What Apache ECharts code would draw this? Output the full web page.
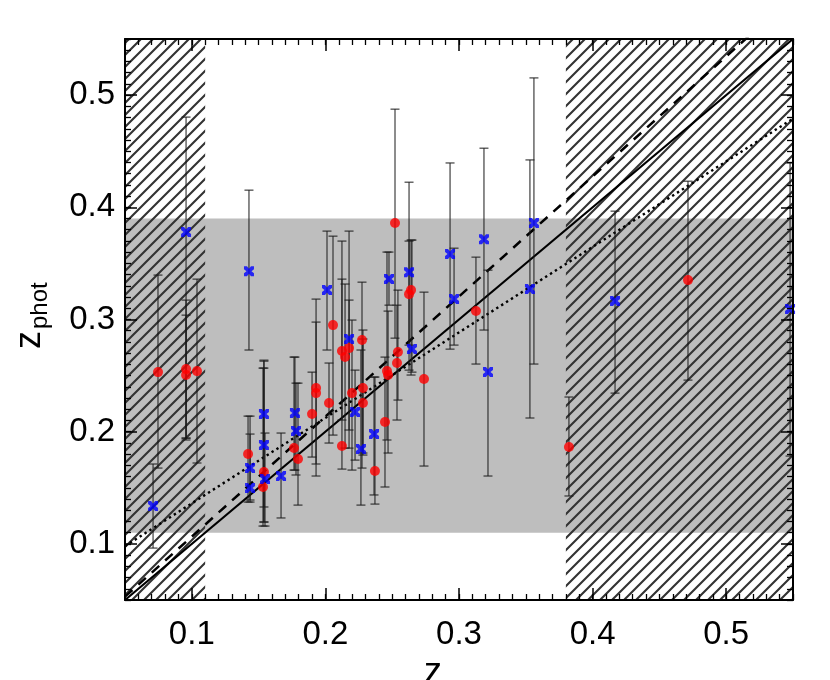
<!DOCTYPE html>
<html>
<head>
<meta charset="utf-8">
<script src="https://cdn.jsdelivr.net/npm/echarts@6/dist/echarts.min.js"></script>
<style>
  html, body { margin: 0; padding: 0; background: #fff; }
  #main { width: 830px; height: 680px; }
</style>
</head>
<body>
<div id="main"></div>
<script>
// 数据：红色圆点（z, z_phot, 误差上下限）
var redX  = [0.0747,0.0957,0.0957,0.1039,0.1421,0.1540,0.1533,0.1765,0.1795,0.1900,0.1930,0.1930,0.2027,0.2057,0.2124,0.2124,0.2147,0.2177,0.2199,0.2274,0.2281,0.2281,0.2371,0.2446,0.2461,0.2469,0.2521,0.2536,0.2543,0.2626,0.2641,0.2738,0.3127,0.3823,0.4714];
var redY  = [0.2531,0.2558,0.2505,0.2540,0.1801,0.1640,0.1507,0.1854,0.1756,0.2157,0.2389,0.2344,0.2255,0.2950,0.1872,0.2719,0.2665,0.2745,0.2344,0.2817,0.2389,0.2255,0.1649,0.2086,0.2540,0.2505,0.3860,0.2612,0.2710,0.3226,0.3262,0.2469,0.3075,0.1863,0.3351];
var redHi = [0.3396,0.3173,0.3039,0.3360,0.2139,0.2629,0.2567,0.2665,0.2433,0.2531,0.3182,0.2977,0.2612,0.3743,0.3699,0.3360,0.3316,0.3173,0.2995,0.3333,0.2906,0.2826,0.2487,0.2665,0.3601,0.3075,0.4875,0.3128,0.3262,0.3699,0.3708,0.3244,0.3556,0.2309,0.4233];
var redLo = [0.1676,0.1943,0.1926,0.1721,0.1373,0.1195,0.1159,0.1658,0.1346,0.1774,0.1605,0.1712,0.1899,0.1970,0.1667,0.2104,0.1854,0.2015,0.1658,0.1676,0.1792,0.1810,0.1355,0.1507,0.1926,0.1810,0.2834,0.2104,0.2282,0.2549,0.2505,0.1694,0.2603,0.1427,0.2460];

// 蓝色叉点
var blueX  = [0.0710,0.0957,0.1428,0.1436,0.1436,0.1540,0.1540,0.1548,0.1668,0.1772,0.1780,0.2012,0.2177,0.2222,0.2266,0.2364,0.2476,0.2626,0.2648,0.2933,0.2963,0.3187,0.3217,0.3531,0.3561,0.4168,0.5478];
var blueY  = [0.1338,0.3779,0.3431,0.1676,0.1498,0.2157,0.1881,0.1578,0.1605,0.2166,0.2006,0.3262,0.2826,0.2175,0.1845,0.1979,0.3360,0.3422,0.2736,0.3583,0.3182,0.3716,0.2531,0.3271,0.3860,0.3164,0.3093];
var blueHi = [0.1712,0.4804,0.4153,0.1979,0.2139,0.2638,0.2567,0.1988,0.1988,0.2665,0.2433,0.3788,0.3788,0.2549,0.2728,0.2487,0.3601,0.4224,0.3708,0.4395,0.3636,0.4527,0.3440,0.4422,0.5153,0.3966,0.4395];
var blueLo = [0.0963,0.1943,0.2728,0.1373,0.1391,0.1329,0.1195,0.1159,0.1231,0.1658,0.1614,0.2728,0.1854,0.1747,0.1346,0.1436,0.3128,0.2772,0.2531,0.2736,0.2772,0.2906,0.1605,0.2122,0.2603,0.2344,0.1783];

// 拟合线端点
var solidLine  = [[0.05, 0.05], [0.55, 0.55]];
var dashedLine = [[0.05, 0.053], [0.55, 0.588]];
var dottedLine = [[0.05, 0.098], [0.55, 0.479]];

// 灰色带与阴影区
var bandY = [0.11, 0.39];
var hatchLeft = [0.05, 0.11];
var hatchRight = [0.38, 0.55];

var axisMin = 0.05, axisMax = 0.55;
var majorTicks = [0.1, 0.2, 0.3, 0.4, 0.5];

// 斜线纹理
var tile = document.createElement('canvas');
var s = 12;
tile.width = s; tile.height = s;
var ctx = tile.getContext('2d');
ctx.strokeStyle = '#333333';
ctx.lineWidth = 2.1;
ctx.beginPath();
ctx.moveTo(-1, s + 1); ctx.lineTo(s + 1, -1);
ctx.moveTo(-1, 1); ctx.lineTo(1, -1);
ctx.moveTo(s - 1, s + 1); ctx.lineTo(s + 1, s - 1);
ctx.stroke();
var hatchFill = { image: tile, repeat: 'repeat' };

function zip(a, b, c) {
    return a.map(function (v, i) { return c ? [v, b[i], c[i]] : [v, b[i]]; });
}

var myChart = echarts.init(document.getElementById('main'));

var labelFont = { fontFamily: 'Liberation Sans', fontSize: 33, color: '#000' };

function minorAxis(pos) {
    return {
        type: 'value', position: pos, min: axisMin, max: axisMax, interval: 0.01, z: 10,
        axisLine: { show: true, onZero: false, lineStyle: { color: '#000', width: 2 } },
        axisTick: { show: true, inside: true, length: 6, lineStyle: { color: '#000', width: 1.3 } },
        axisLabel: { show: false },
        splitLine: { show: false }
    };
}
function majorAxis(pos, labels, margin) {
    return {
        type: 'value', position: pos, min: axisMin, max: axisMax, z: 10,
        axisLine: { show: false, onZero: false },
        axisTick: { show: true, inside: true, length: 12, customValues: majorTicks, lineStyle: { color: '#000', width: 1.5 } },
        axisLabel: Object.assign({ show: labels, customValues: majorTicks, margin: margin }, labelFont),
        splitLine: { show: false }
    };
}

function errRender(params, api) {
    var x = api.value(0), lo = api.value(1), hi = api.value(2);
    var a = api.coord([x, lo]), b = api.coord([x, hi]);
    var w = 4.5;
    var st = { stroke: '#1a1a1a', lineWidth: 1 };
    return {
        type: 'group',
        children: [
            { type: 'line', shape: { x1: a[0], y1: a[1], x2: b[0], y2: b[1] }, style: st },
            { type: 'line', shape: { x1: a[0] - w, y1: a[1], x2: a[0] + w, y2: a[1] }, style: st },
            { type: 'line', shape: { x1: b[0] - w, y1: b[1], x2: b[0] + w, y2: b[1] }, style: st }
        ]
    };
}

function rectRender(fill) {
    return function (params, api) {
        var p0 = api.coord([api.value(0), api.value(3)]);
        var p1 = api.coord([api.value(1), api.value(2)]);
        return {
            type: 'rect',
            shape: { x: p0[0], y: p0[1], width: p1[0] - p0[0], height: p1[1] - p0[1] },
            style: { fill: fill, stroke: null }
        };
    };
}

var crossPath = 'path://M0 0L3 0L5 2.5L7 0L10 0L10 3L7.5 5L10 7L10 10L7 10L5 7.5L3 10L0 10L0 7L2.5 5L0 3Z';

option = {
    animation: false,
    backgroundColor: '#fff',
    grid: { left: 125, right: 37, top: 39, bottom: 80 },
    xAxis: [minorAxis('bottom'), majorAxis('bottom', true, 18), minorAxis('top'), majorAxis('top', false, 8)],
    yAxis: [minorAxis('left'), majorAxis('left', true, 10), minorAxis('right'), majorAxis('right', false, 8)],
    graphic: [
        { type: 'text', x: 433, y: 655, style: { text: 'z', fontFamily: 'Liberation Sans', fontSize: 36, fill: '#000', textAlign: 'center', textVerticalAlign: 'top' } },
        { type: 'text', x: 30, y: 340, rotation: Math.PI / 2, style: { text: 'z', fontFamily: 'Liberation Sans', fontSize: 36, fill: '#000', textAlign: 'center', textVerticalAlign: 'middle' } },
        { type: 'text', x: 40, y: 329, rotation: Math.PI / 2, style: { text: 'phot', fontFamily: 'Liberation Sans', fontSize: 24, fill: '#000', textAlign: 'left', textVerticalAlign: 'middle' } }
    ],
    series: [
        {
            type: 'custom', z: 1, clip: true,
            renderItem: rectRender('#bebebe'),
            data: [[axisMin, axisMax, bandY[0], bandY[1]]]
        },
        {
            type: 'custom', z: 2, clip: true,
            renderItem: rectRender(hatchFill),
            data: [[hatchLeft[0], hatchLeft[1], axisMin, axisMax], [hatchRight[0], hatchRight[1], axisMin, axisMax]]
        },
        { type: 'line', z: 3, data: solidLine, symbol: 'none', lineStyle: { color: '#000', width: 2.2, type: 'solid' } },
        { type: 'line', z: 3, data: dashedLine, symbol: 'none', lineStyle: { color: '#000', width: 2.5, type: [10, 8] } },
        { type: 'line', z: 3, data: dottedLine, symbol: 'none', lineStyle: { color: '#000', width: 2.4, type: [2.4, 3.4] } },
        { type: 'custom', z: 4, clip: true, renderItem: errRender, data: zip(redX, redLo, redHi) },
        { type: 'custom', z: 4, clip: true, renderItem: errRender, data: zip(blueX, blueLo, blueHi) },
        { type: 'scatter', z: 5, data: zip(redX, redY), symbol: 'circle', symbolSize: 10, itemStyle: { color: '#ff0000' } },
        { type: 'scatter', z: 5, data: zip(blueX, blueY), symbol: crossPath, symbolSize: 10, itemStyle: { color: '#0000ff' } }
    ]
};

myChart.setOption(option);
</script>
</body>
</html>
